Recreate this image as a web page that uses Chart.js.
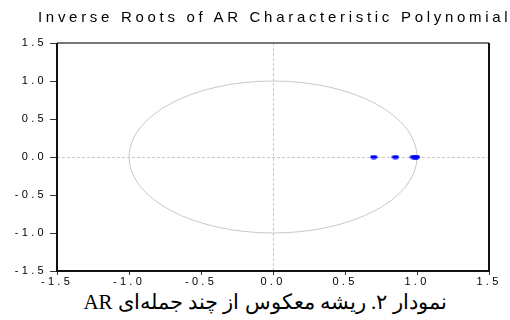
<!DOCTYPE html>
<html>
<head>
<meta charset="utf-8">
<script src="https://cdn.jsdelivr.net/npm/chart.js@4/dist/chart.umd.min.js"></script>
<style>
  body { margin:0; background:#fff; width:510px; height:320px; overflow:hidden; position:relative; }
  #wrap { position:relative; width:510px; height:290px; }
  #title { position:absolute; top:8px; left:38px; white-space:nowrap; font-family:"Liberation Sans",Arial,sans-serif;
           font-size:15px; letter-spacing:3.7px; color:#000; line-height:18px; }
  #caption { font-family:"Liberation Serif","DejaVu Serif",serif; font-size:21px; color:#000;
             text-align:center; line-height:28px; margin-top:-2px; padding-left:20px; }
</style>
</head>
<body>
<div id="wrap"><canvas id="roots" width="510" height="290"></canvas><div id="title"></div></div>
<div id="caption" dir="rtl">نمودار ۲. ریشه معکوس از چند جمله‌ای AR</div>
<script>
// inverse AR roots (real, imaginary)
const rootRe = [0.70, 0.85, 0.975, 0.99, 0.995];
const rootIm = [0, 0, 0, 0, 0];
const tickVals = [-1.5, -1.0, -0.5, 0.0, 0.5, 1.0, 1.5];
const titleText = 'Inverse Roots of AR Characteristic Polynomial';
document.getElementById('title').textContent = titleText;

// flattened dot like the original export
function dotImage(){
  const c = document.createElement('canvas');
  c.width = 8; c.height = 5;
  const g = c.getContext('2d');
  g.fillStyle = '#0000ff';
  g.beginPath();
  g.ellipse(4, 2.5, 3.6, 2, 0, 0, Math.PI*2);
  g.fill();
  return c;
}

const spacing = {
  id:'spacing',
  beforeUpdate(chart){ chart.ctx.letterSpacing = '3.3px'; },
  beforeDraw(chart){ chart.ctx.letterSpacing = '3.3px'; }
};

// unit circle + frame
const unitCircle = {
  id:'unitCircle',
  beforeDatasetsDraw(chart){
    const {ctx, scales:{x, y}} = chart;
    const cx = x.getPixelForValue(0), cy = y.getPixelForValue(0);
    const rx = x.getPixelForValue(1) - cx, ry = cy - y.getPixelForValue(1);
    ctx.save();
    ctx.strokeStyle = '#c8c8c8';
    ctx.lineWidth = 1;
    ctx.beginPath();
    ctx.ellipse(cx, cy, rx, ry, 0, 0, Math.PI*2);
    ctx.stroke();
    ctx.restore();
  },
  afterDraw(chart){
    const {ctx, chartArea:a} = chart;
    ctx.save();
    ctx.setLineDash([]);
    ctx.lineWidth = 2;
    ctx.strokeStyle = '#777';
    ctx.beginPath(); ctx.moveTo(a.left, a.top); ctx.lineTo(a.right, a.top); ctx.stroke();
    ctx.strokeStyle = '#111';
    ctx.beginPath();
    ctx.moveTo(a.left, a.top); ctx.lineTo(a.left, a.bottom); ctx.lineTo(a.right, a.bottom); ctx.lineTo(a.right, a.top);
    ctx.stroke();
    ctx.restore();
  }
};

function axisOpts(isY){
  return {
    type:'linear',
    min:tickVals[0], max:tickVals[tickVals.length-1],
    afterBuildTicks(s){ s.ticks = tickVals.map(v => ({value:v})); },
    afterFit(s){ if(isY) s.width = 57; else s.height = 19; },
    ticks:{
      color:'#000', padding:isY ? 3 : 0,
      font:{family:'"Liberation Sans", Arial, sans-serif', size:11},
      callback:v => v.toFixed(1)
    },
    grid:{
      color:c => c.tick && c.tick.value === 0 ? '#c8c8c8' : 'rgba(0,0,0,0)',
      tickColor:'#333', tickLength:isY ? 7 : 4, drawTicks:true
    },
    border:{display:false, dash:[3,2]}
  };
}

new Chart(document.getElementById('roots'), {
  type:'scatter',
  data:{
    datasets:[{
      data:rootRe.map((v,i) => ({x:v, y:rootIm[i]})),
      pointStyle:dotImage(),
      backgroundColor:'#0000ff'
    }]
  },
  options:{
    responsive:false, animation:false,
    layout:{padding:{left:0, right:21, top:43, bottom:0}},
    plugins:{ legend:{display:false}, tooltip:{enabled:false} },
    scales:{ x:axisOpts(false), y:axisOpts(true) }
  },
  plugins:[spacing, unitCircle]
});
</script>
</body>
</html>
